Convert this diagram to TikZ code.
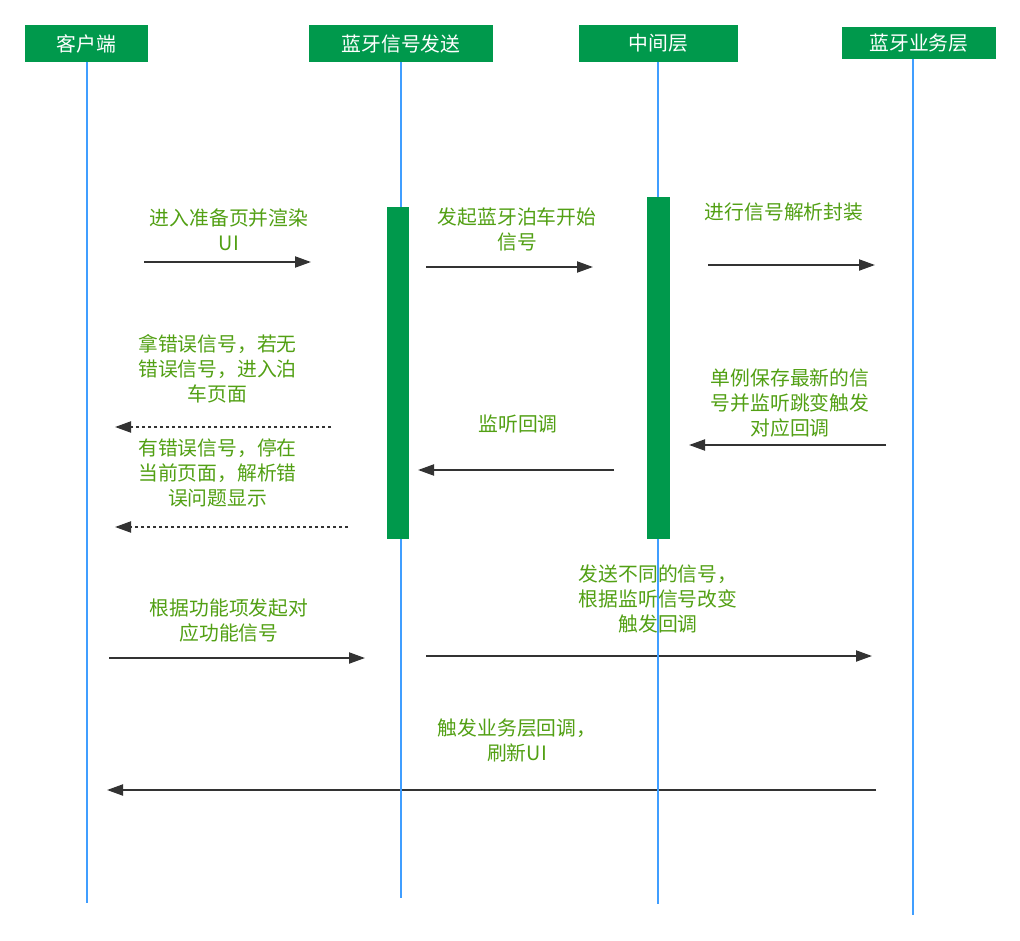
\documentclass[tikz,border=0pt]{standalone}
\usepackage{fontspec}
\setmainfont{Noto Sans CJK SC}
\usetikzlibrary{arrows.meta}
\definecolor{hdr}{RGB}{0,153,76}
\definecolor{lblgreen}{RGB}{82,160,20}
\definecolor{arrowgray}{RGB}{51,51,51}
\definecolor{lifeblue}{RGB}{64,158,255}
\begin{document}
\begin{tikzpicture}[x=1pt,y=-1pt,
  hdrbox/.style={fill=hdr, text=white, inner sep=0pt, minimum height=37pt, font=\fontsize{19.8}{25}\selectfont},
  lbl/.style={text=lblgreen, align=center, inner sep=0pt, font=\fontsize{19.8}{25}\selectfont},
  msg/.style={draw=arrowgray, line width=2pt, -{Triangle[length=16pt,width=11pt]}},
  rmsg/.style={msg, dash pattern=on 3pt off 3pt},
  life/.style={draw=lifeblue, line width=2pt},
  act/.style={fill=hdr, draw=none, inner sep=0pt}
]
\useasboundingbox[fill=white] (0,0) rectangle (1020,940);

% labels
\node[lbl] (t1) at (229,229.5) {进入准备页并渲染\\UI};
\node[lbl] (t2) at (517,229) {发起蓝牙泊车开始\\信号};
\node[lbl] (t3) at (784,212) {进行信号解析封装};
\node[lbl] (t4) at (217.5,369) {拿错误信号，若无\\错误信号，进入泊\\车页面};
\node[lbl] (t5) at (217.5,473) {有错误信号，停在\\当前页面，解析错\\误问题显示};
\node[lbl] (t6) at (518,424) {监听回调};
\node[lbl] (t7) at (790,403) {单例保存最新的信\\号并监听跳变触发\\对应回调};
\node[lbl] (t8) at (229,620.5) {根据功能项发起对\\应功能信号};
\node[lbl] (t9) at (658,599) {发送不同的信号，\\根据监听信号改变\\触发回调};
\node[lbl] (t10) at (517,740.5) {触发业务层回调，\\刷新UI};

% message endpoints
\coordinate (m1s) at (144,262);  \coordinate (m1e) at (311,262);
\coordinate (m2s) at (426,267);  \coordinate (m2e) at (593,267);
\coordinate (m3s) at (708,265);  \coordinate (m3e) at (875,265);
\coordinate (m4s) at (331,427);  \coordinate (m4e) at (115,427);
\coordinate (m5s) at (348,527);  \coordinate (m5e) at (115,527);
\coordinate (m6s) at (614,470);  \coordinate (m6e) at (418,470);
\coordinate (m7s) at (886,445);  \coordinate (m7e) at (689,445);
\coordinate (m8s) at (109,658);  \coordinate (m8e) at (365,658);
\coordinate (m9s) at (426,656);  \coordinate (m9e) at (872,656);
\coordinate (m10s) at (876,790); \coordinate (m10e) at (107,790);

\draw[msg] (m1s) -- (m1e);
\draw[msg] (m2s) -- (m2e);
\draw[msg] (m3s) -- (m3e);
\draw[rmsg] (m4s) -- (m4e);
\draw[rmsg] (m5s) -- (m5e);
\draw[msg] (m6s) -- (m6e);
\draw[msg] (m7s) -- (m7e);
\draw[msg] (m8s) -- (m8e);
\draw[msg] (m9s) -- (m9e);
\draw[msg] (m10s) -- (m10e);

% headers
\node[hdrbox, minimum width=123pt] (h1) at (86.5,43.5) {客户端};
\node[hdrbox, minimum width=184pt] (h2) at (401,43.5) {蓝牙信号发送};
\node[hdrbox, minimum width=159pt] (h3) at (658.5,43.5) {中间层};
\node[hdrbox, minimum width=154pt, minimum height=32pt] (h4) at (919,43) {蓝牙业务层};

% lifeline ends
\coordinate (e1) at (87,903);
\coordinate (e2) at (401,898);
\coordinate (e3) at (658,904);
\coordinate (e4) at (913,915);

\draw[life] (h1.south -| e1) -- (e1);
\draw[life] (h2.south -| e2) -- (e2);
\draw[life] (h3.south -| e3) -- (e3);
\draw[life] (h4.south -| e4) -- (e4);

% activation bars
\node[act, minimum width=22pt, minimum height=332pt] (a1) at (398,373) {};
\node[act, minimum width=23pt, minimum height=342pt] (a2) at (658.5,368) {};
\end{tikzpicture}
\end{document}
